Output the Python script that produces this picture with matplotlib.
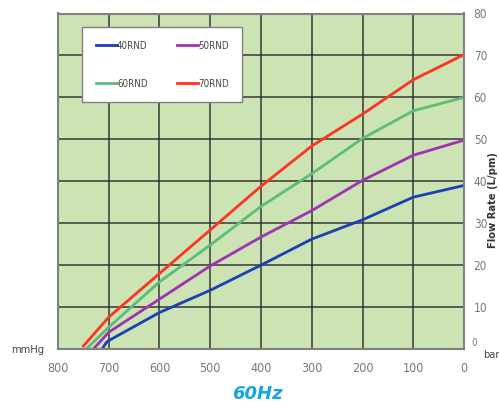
import matplotlib.pyplot as plt

# pressure (mmHg) and flow rate (L/pm) for each pump
p_40 = [713, 705, 700, 600, 500, 400, 300, 200, 100, 0]
q_40 = [0.0, 1.5, 2.0, 8.7, 14.0, 20.0, 26.2, 30.8, 36.2, 39.0]
p_50 = [728, 700, 600, 500, 400, 300, 200, 100, 0]
q_50 = [0.3, 4.0, 11.9, 19.8, 26.7, 33.0, 40.2, 46.2, 49.8]
p_60 = [742, 700, 600, 500, 400, 300, 200, 100, 0]
q_60 = [0.3, 5.2, 16.0, 24.8, 34.0, 41.8, 50.2, 56.8, 60.0]
p_70 = [750, 700, 600, 500, 400, 300, 200, 100, 0]
q_70 = [0.7, 7.6, 18.0, 28.4, 38.8, 48.4, 56.0, 64.2, 70.2]

x_ticks = [800, 700, 600, 500, 400, 300, 200, 100, 0]
y_ticks = [10, 20, 30, 40, 50, 60, 70, 80]

plt.rcParams['font.family'] = ['DejaVu Sans']
plt.rcParams['font.stretch'] = 'condensed'

fig = plt.figure(figsize=(4.99, 4.09), dpi=100)
ax = fig.add_axes([58 / 499, 1 - 349 / 409, 406 / 499, 335.5 / 409])
ax.set_facecolor('#cce3b4')

l40, = ax.plot(p_40, q_40, color='#1d3fb5', lw=2)
l50, = ax.plot(p_50, q_50, color='#a032b4', lw=2)
l60, = ax.plot(p_60, q_60, color='#5bbd78', lw=2)
l70, = ax.plot(p_70, q_70, color='#ff3322', lw=2)

ax.set_xlim(800, 0)
ax.set_ylim(0, 80)
ax.set_xticks(x_ticks)
ax.set_yticks(y_ticks)
ax.yaxis.tick_right()
ax.tick_params(axis='x', length=0, labelsize=9, labelcolor='#777777', pad=9)
ax.tick_params(axis='y', length=0, labelsize=8.5, labelcolor='#777777', pad=7)
ax.grid(color='#2a2a2a', lw=1.2, alpha=0.85)
ax.set_axisbelow(True)
for s in ax.spines.values():
    s.set_color('#808080')
    s.set_linewidth(1.5)

ax.legend([l40, l60, l50, l70], ['40RND', '60RND', '50RND', '70RND'],
          ncol=2, loc='upper left', bbox_to_anchor=(0.059, 0.96),
          borderaxespad=0, fontsize=7, labelcolor='#444444', frameon=True,
          fancybox=False, edgecolor='#808080', framealpha=1, handlelength=2.2,
          handletextpad=0, columnspacing=3.0, labelspacing=2.9, borderpad=1.4)

fig.text(28 / 499, 1 - 350 / 409, 'mmHg', fontsize=8, color='#444444',
         ha='center', va='center')
fig.text(474 / 499, 1 - 343 / 409, '0', fontsize=7, color='#777777',
         ha='center', va='center')
fig.text(491 / 499, 1 - 355 / 409, 'bar', fontsize=8, color='#444444',
         ha='center', va='center')
fig.text(492.5 / 499, 1 - 200 / 409, 'Flow Rate (L/pm)', fontsize=8,
         fontweight='bold', color='#333333', rotation=90,
         ha='center', va='center')
fig.text(257 / 499, 1 - 394 / 409, '60Hz', fontsize=13, fontweight='bold',
         fontstyle='italic', color='#18a4e0', ha='center', va='center',
         fontstretch='normal')

fig.savefig('out.png', dpi=100)
